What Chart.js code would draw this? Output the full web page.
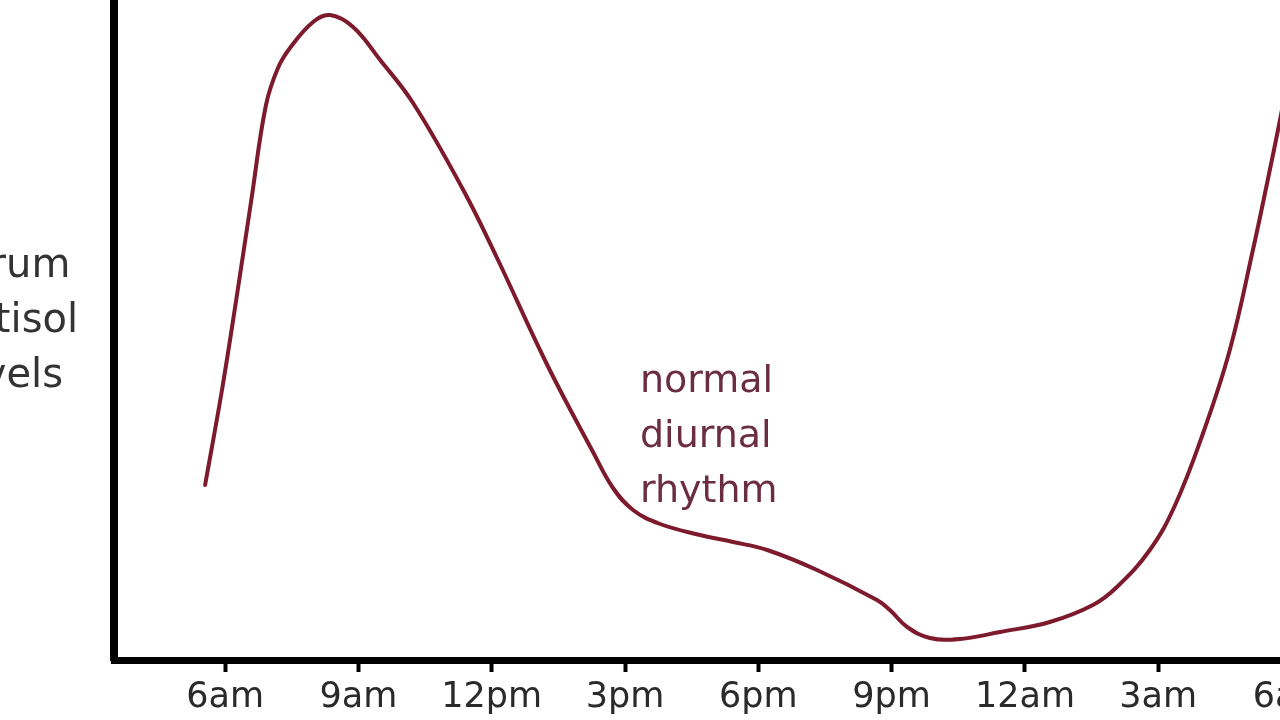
<!DOCTYPE html>
<html>
<head>
<meta charset="utf-8">
<script src="https://cdn.jsdelivr.net/npm/chart.js@4/dist/chart.umd.min.js"></script>
<style>
  html, body { margin: 0; padding: 0; background: #ffffff; overflow: hidden; width: 1280px; height: 720px; }
  canvas { display: block; }
</style>
</head>
<body>
<canvas id="c" width="1340" height="720"></canvas>
<script>
// Hours after 6am (x) and relative serum cortisol level (y)
const hours = [-0.45, -0.07, 0.25, 0.59, 0.92, 1.19, 1.46, 1.98, 2.36, 2.88, 3.49, 4.23, 5.36, 6.12, 7.25, 8.28, 8.73, 9.18, 9.79, 10.69, 11.43, 12.2, 13.32, 14.67, 14.96, 15.35, 15.86, 16.54, 17.44, 18.56, 19.53, 20.07, 20.81, 21.38, 22.01, 22.61, 23.13, 23.45, 23.74, 24.0];
const cortisol = [175, 270, 360, 460, 555, 592, 612, 638, 645, 633, 600, 557, 470, 402, 295, 208, 172, 150, 136, 125, 118, 110, 90, 60, 50, 33, 22, 21, 28, 38, 55, 73, 110, 155, 227, 310, 410, 477, 540, 600];
const tickValues = [0, 3, 6, 9, 12, 15, 18, 21, 24];
const tickLabels = ['6am', '9am', '12pm', '3pm', '6pm', '9pm', '12am', '3am', '6am'];
const yTitleLines = ['Serum', 'cortisol', 'levels'];
const noteLines = ['normal', 'diurnal', 'rhythm'];

const points = hours.map((h, i) => ({ x: h, y: cortisol[i] }));

const textPlugin = {
  id: 'texts',
  afterDraw(chart) {
    const ctx = chart.ctx;
    ctx.save();
    ctx.font = '40px "DejaVu Sans"';
    ctx.fillStyle = '#333333';
    ctx.textAlign = 'center';
    ctx.textBaseline = 'alphabetic';
    yTitleLines.forEach((t, i) => ctx.fillText(t, 5, 277 + i * 55));
    ctx.font = '38px "DejaVu Sans"';
    ctx.fillStyle = '#6b2d40';
    ctx.textAlign = 'left';
    noteLines.forEach((t, i) => ctx.fillText(t, 640, 392 + i * 55));
    ctx.restore();
  }
};

new Chart(document.getElementById('c'), {
  type: 'line',
  data: {
    datasets: [{
      data: points,
      borderColor: '#7d1a2c',
      borderWidth: 4,
      pointRadius: 0,
      fill: false,
      tension: 0.4,
      borderCapStyle: 'round',
      borderJoinStyle: 'round'
    }]
  },
  options: {
    responsive: false,
    animation: false,
    layout: { padding: { left: 0, right: 4, top: 0, bottom: 0 } },
    plugins: { legend: { display: false }, tooltip: { enabled: false } },
    scales: {
      x: {
        type: 'linear',
        min: -2.5,
        max: 25,
        afterBuildTicks: (axis) => { axis.ticks = tickValues.map(v => ({ value: v })); },
        afterFit: (axis) => { axis.height = 60; },
        ticks: {
          autoSkip: false,
          maxRotation: 0,
          padding: 5,
          color: '#2a2a2a',
          font: { family: '"DejaVu Sans"', size: 35 },
          callback: (v, i) => tickLabels[i]
        },
        grid: { display: true, drawOnChartArea: false, drawTicks: true, tickLength: 12, tickWidth: 4, tickColor: '#000000' },
        border: { display: true, color: '#000000', width: 7 }
      },
      y: {
        min: 0,
        max: 660,
        afterFit: (axis) => { axis.width = 114; },
        ticks: { display: false },
        grid: { display: false, drawTicks: false },
        border: { display: true, color: '#000000', width: 8 }
      }
    }
  },
  plugins: [textPlugin]
});
</script>
</body>
</html>
